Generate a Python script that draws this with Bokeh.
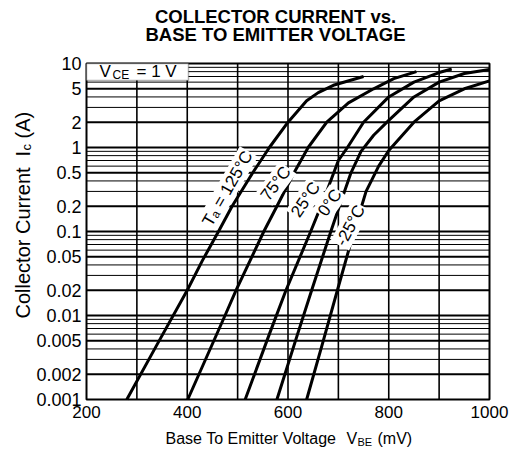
from bokeh.plotting import figure
from bokeh.models import Range1d, Label, BoxAnnotation
from bokeh.core.properties import value
from bokeh.embed import file_html
from bokeh.resources import INLINE

# ---------------- data ----------------
temps = ["125", "75", "25", "0", "-25"]

v_125 = [280, 340, 400, 430, 462, 489, 530, 563, 600, 637, 660, 690, 750]
i_125 = [0.001, 0.0045, 0.02, 0.045, 0.1, 0.2, 0.5, 1.0, 2.0, 3.6, 4.5, 5.5, 7.0]

v_75 = [401, 475, 497, 552, 578, 612, 640, 677, 720, 770, 810, 855]
i_75 = [0.001, 0.01, 0.02, 0.1, 0.2, 0.5, 1.0, 2.0, 3.4, 5.0, 6.6, 8.0]

v_25 = [515, 563, 596, 645, 672, 700, 718, 750, 800, 850, 900, 925]
i_25 = [0.001, 0.006, 0.02, 0.1, 0.25, 0.7, 1.0, 2.0, 4.0, 6.0, 7.8, 8.6]

v_0 = [578, 619, 647, 685, 702, 725, 745, 770, 800, 850, 900, 950, 1000]
i_0 = [0.001, 0.006, 0.02, 0.1, 0.2, 0.5, 0.9, 1.4, 2.1, 4.0, 6.0, 7.6, 8.5]

v_m25 = [637, 670, 700, 731, 755, 780, 800, 850, 900, 950, 1000]
i_m25 = [0.001, 0.005, 0.022, 0.1, 0.3, 0.6, 0.92, 2.0, 3.6, 5.0, 6.2]

x_min, x_max = 200, 1000
y_min, y_max = 0.001, 10
x_ticks = [200, 400, 600, 800, 1000]
x_tick_labels = ["200", "400", "600", "800", "1000"]
x_grid = [300, 400, 500, 600, 700, 800, 900]
y_ticks = [0.001, 0.002, 0.005, 0.01, 0.02, 0.05, 0.1, 0.2, 0.5, 1, 2, 5, 10]
y_tick_labels = ["0.001", "0.002", "0.005", "0.01", "0.02", "0.05", "0.1",
                 "0.2", "0.5", "1", "2", "5", "10"]
y_major_grid = [0.002, 0.005, 0.01, 0.02, 0.05, 0.1, 0.2, 0.5, 1, 2, 5]
y_minor_grid = [m * d for d in [0.001, 0.01, 0.1, 1] for m in [3, 4, 6, 7, 8, 9]]

# ---------------- layout (pixel placement of the plot box) ----------------
W, H = 514, 454
BOX_L, BOX_R, BOX_T, BOX_B = 86, 489, 63, 399
SX = (BOX_R - BOX_L) / (x_max - x_min)      # px per mV
SY = (BOX_B - BOX_T) / 4.0                  # px per decade


def xd(px):
    return x_min + (px - BOX_L) / SX


def yd(py):
    return 10 ** (1 - (py - BOX_T) / SY)


FONT = "Liberation Sans"

p = figure(width=W, height=H, x_range=Range1d(xd(0), xd(W)),
           y_range=Range1d(yd(H), yd(0)), y_axis_type="log",
           x_axis_location=None, y_axis_location=None,
           output_backend="svg", toolbar_location=None,
           min_border=0, min_border_left=0, min_border_right=0,
           min_border_top=0, min_border_bottom=0)
p.outline_line_color = None
p.background_fill_color = "white"
p.border_fill_color = "white"
p.xgrid.visible = False
p.ygrid.visible = False

# grid lines (restricted to the plot box)
p.segment(x0=x_grid, y0=[y_min] * len(x_grid), x1=x_grid, y1=[y_max] * len(x_grid),
          line_color="black", line_width=1.6)
p.segment(x0=[x_min] * len(y_minor_grid), y0=y_minor_grid,
          x1=[x_max] * len(y_minor_grid), y1=y_minor_grid,
          line_color="black", line_width=1.0)
p.segment(x0=[x_min] * len(y_major_grid), y0=y_major_grid,
          x1=[x_max] * len(y_major_grid), y1=y_major_grid,
          line_color="black", line_width=2.0)

# curves
for v, i in [(v_125, i_125), (v_75, i_75), (v_25, i_25), (v_0, i_0), (v_m25, i_m25)]:
    p.line(v, i, line_color="black", line_width=3, line_join="round")

# plot box outline
p.quad(left=[x_min], right=[x_max], bottom=[y_min], top=[y_max],
       fill_color=None, line_color="black", line_width=2)

# tick labels
p.text(x=x_ticks, y=[yd(BOX_B + 6)] * len(x_ticks), text=x_tick_labels,
       text_align="center", text_baseline="top", text_font=value(FONT),
       text_font_size="17px", text_color="black")
p.text(x=[xd(BOX_L - 5)] * len(y_ticks), y=y_ticks, text=y_tick_labels,
       text_align="right", text_baseline="middle", text_font=value(FONT),
       text_font_size="18px", text_color="black")

# curve labels
lab_pos = [(480, 0.325, 60), (576, 0.373, 53), (635, 0.24, 56), (683, 0.22, 55), (724, 0.118, 62)]
lab_txt = ["Tₐ = " + temps[0] + "°C"] + [t + "°C" for t in temps[1:]]
for (x, y, a), t in zip(lab_pos, lab_txt):
    p.add_layout(Label(x=x, y=y, text=t, angle=a, angle_units="deg",
                       text_align="center", text_baseline="middle",
                       text_font=FONT, text_font_size="17px", text_color="black",
                       background_fill_color="white", background_fill_alpha=1.0,
                       padding=1))

# VCE box
p.add_layout(BoxAnnotation(left=x_min, right=xd(188), bottom=yd(80), top=y_max,
                           fill_color="white", fill_alpha=1.0,
                           line_color="black", line_width=1.5))
p.add_layout(Label(x=xd(99), y=yd(71), text="V", text_font=FONT, text_font_size="17px",
                   text_color="black", text_align="left", text_baseline="middle"))
p.add_layout(Label(x=xd(112), y=yd(74), text="CE", text_font=FONT, text_font_size="12px",
                   text_color="black", text_align="left", text_baseline="middle"))
p.add_layout(Label(x=xd(136), y=yd(71), text="= 1 V", text_font=FONT, text_font_size="17px",
                   text_color="black", text_align="left", text_baseline="middle"))

# title
for t, py in [("COLLECTOR CURRENT vs.", 16), ("BASE TO EMITTER VOLTAGE", 34)]:
    p.add_layout(Label(x=xd(275), y=yd(py), text=t, text_font=FONT,
                       text_font_size="18.5px", text_font_style="bold", text_color="black",
                       text_align="center", text_baseline="middle"))

# x axis label: "Base To Emitter Voltage  V_BE (mV)"
for t, px, py, fs in [("Base To Emitter Voltage", 165, 438, "16px"),
                      ("V", 346, 438, "16px"),
                      ("BE", 357, 441, "11px"),
                      ("(mV)", 377, 438, "16px")]:
    p.add_layout(Label(x=xd(px), y=yd(py), text=t, text_font=FONT, text_font_size=fs,
                       text_color="black", text_align="left", text_baseline="middle"))

# y axis label (rotated): "Collector Current  I_c (A)"
for t, px, py, fs in [("Collector Current", 22, 318, "20px"),
                      ("I", 22, 156, "20px"),
                      ("c", 26, 150, "13px"),
                      ("(A)", 22, 138, "20px")]:
    p.add_layout(Label(x=xd(px), y=yd(py), angle=90, angle_units="deg", text=t,
                       text_font=FONT, text_font_size=fs, text_color="black",
                       text_align="left", text_baseline="middle"))

open("out.html", "w").write(file_html(p, INLINE))
